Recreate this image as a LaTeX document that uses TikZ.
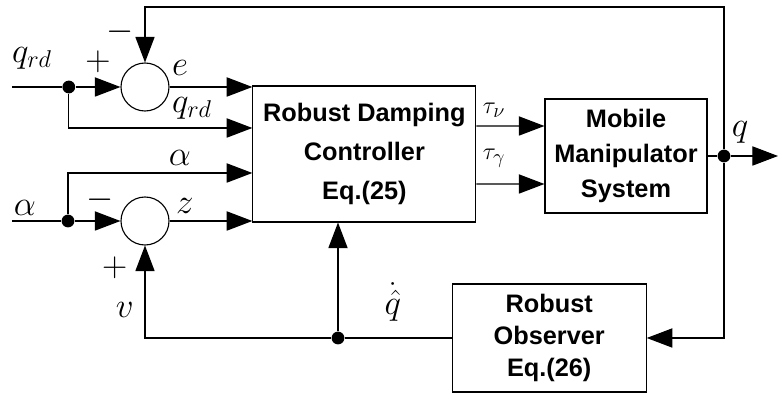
\documentclass[tikz,border=0pt]{standalone}
\usepackage{fontspec}
\setsansfont{Liberation Sans}
\usetikzlibrary{arrows.meta,calc}

\begin{document}
\begin{tikzpicture}[line width=0.8pt,>={Triangle[length=0.64cm,width=0.48cm]},
      blk/.style={draw,align=center,font=\sffamily\bfseries\fontsize{18}{25}\selectfont},
      sumnode/.style={draw,circle,minimum size=1.2cm,inner sep=0pt},
      dotnode/.style={circle,fill=black,minimum size=0.32cm,inner sep=0pt},
      lbl/.style={font=\fontsize{23}{26}\selectfont}]
    \useasboundingbox (0,0) rectangle (19.5,9.9);
    % blocks
    \node[blk,minimum width=5.575cm,minimum height=3.4cm,font=\sffamily\bfseries\fontsize{18}{27.5}\selectfont] (ctrl) at (9.11,6.05) {Robust Damping\\Controller\\Eq.(25)};
    \node[blk,minimum width=4.05cm,minimum height=2.85cm] (mms) at (15.65,6.0) {Mobile\\Manipulator\\System};
    \node[blk,minimum width=4.85cm,minimum height=2.7cm,font=\sffamily\bfseries\fontsize{18}{23}\selectfont] (obs) at (13.73,1.45) {Robust\\Observer\\Eq.(26)};
    % summing junctions and branch points
    \node[sumnode] (s1) at (3.625,7.725) {};
    \node[sumnode] (s2) at (3.625,4.375) {};
    \node[dotnode] (d1) at (1.72,7.725) {};
    \node[dotnode] (d2) at (1.7,4.375) {};
    \node[dotnode] (d3) at (8.45,1.45) {};
    \node[dotnode] (dq) at (18.1,6.0) {};
    \coordinate (qrdin) at (0.3,7.725);
    \coordinate (alin) at (0.3,4.375);
    \coordinate (top) at (18.1,9.725);
    \coordinate (qout) at (19.45,6.0);
    % input side
    \draw (qrdin) -- (d1);
    \draw[->] (d1) -- (s1.west);
    \draw[->] (d1) |- ($(ctrl.west)+(0,0.65)$);
    \draw[->] (s1.east) -- (s1 -| ctrl.west);
    \draw (alin) -- (d2);
    \draw[->] (d2) -- (s2.west);
    \draw[->] (d2) |- ($(ctrl.west)+(0,-0.475)$);
    \draw[->] (s2.east) -- (s2 -| ctrl.west);
    % controller to plant
    \draw[->] ($(ctrl.east)+(0,0.7)$) -- ($(mms.west)+(0,0.75)$);
    \draw[->] ($(ctrl.east)+(0,-0.75)$) -- ($(mms.west)+(0,-0.7)$);
    % output and feedback
    \draw (mms.east) -- (dq);
    \draw[->] (dq) -- (qout);
    \draw[->] (dq) -- (top) -| (s1.north);
    \draw[->] (dq) |- (obs.east);
    \draw (obs.west) -- (d3);
    \draw[->] (d3) -| (s2.south);
    \draw[->] (d3) -- (d3 |- ctrl.south);
    % labels
    \node[lbl] (lqrd) at (0.8,8.45) {$q_{rd}$};
    \node[lbl] (lp1) at (2.45,8.35) {$+$};
    \node[lbl] (lm1) at (3.0,9.1) {$-$};
    \node[lbl] (le) at (4.5,8.2) {$e$};
    \node[lbl] (lqrd2) at (4.8,7.2) {$q_{rd}$};
    \node[lbl] (lal) at (4.5,5.95) {$\alpha$};
    \node[lbl] (lal2) at (0.62,4.7) {$\alpha$};
    \node[lbl] (lm2) at (2.5,4.9) {$-$};
    \node[lbl] (lz) at (4.62,4.75) {$z$};
    \node[lbl] (lp2) at (2.87,3.2) {$+$};
    \node[lbl] (lv) at (3.12,2.15) {$v$};
    \node[lbl] (lqh) at (9.82,2.35) {$\dot{\hat{q}}$};
    \node[lbl,font=\fontsize{19}{22}\selectfont] (ltv) at (12.35,7.15) {$\tau_{\nu}$};
    \node[lbl,font=\fontsize{19}{22}\selectfont] (ltg) at (12.35,5.95) {$\tau_{\gamma}$};
    \node[lbl] (lq) at (18.5,6.6) {$q$};
  \end{tikzpicture}
\end{document}
